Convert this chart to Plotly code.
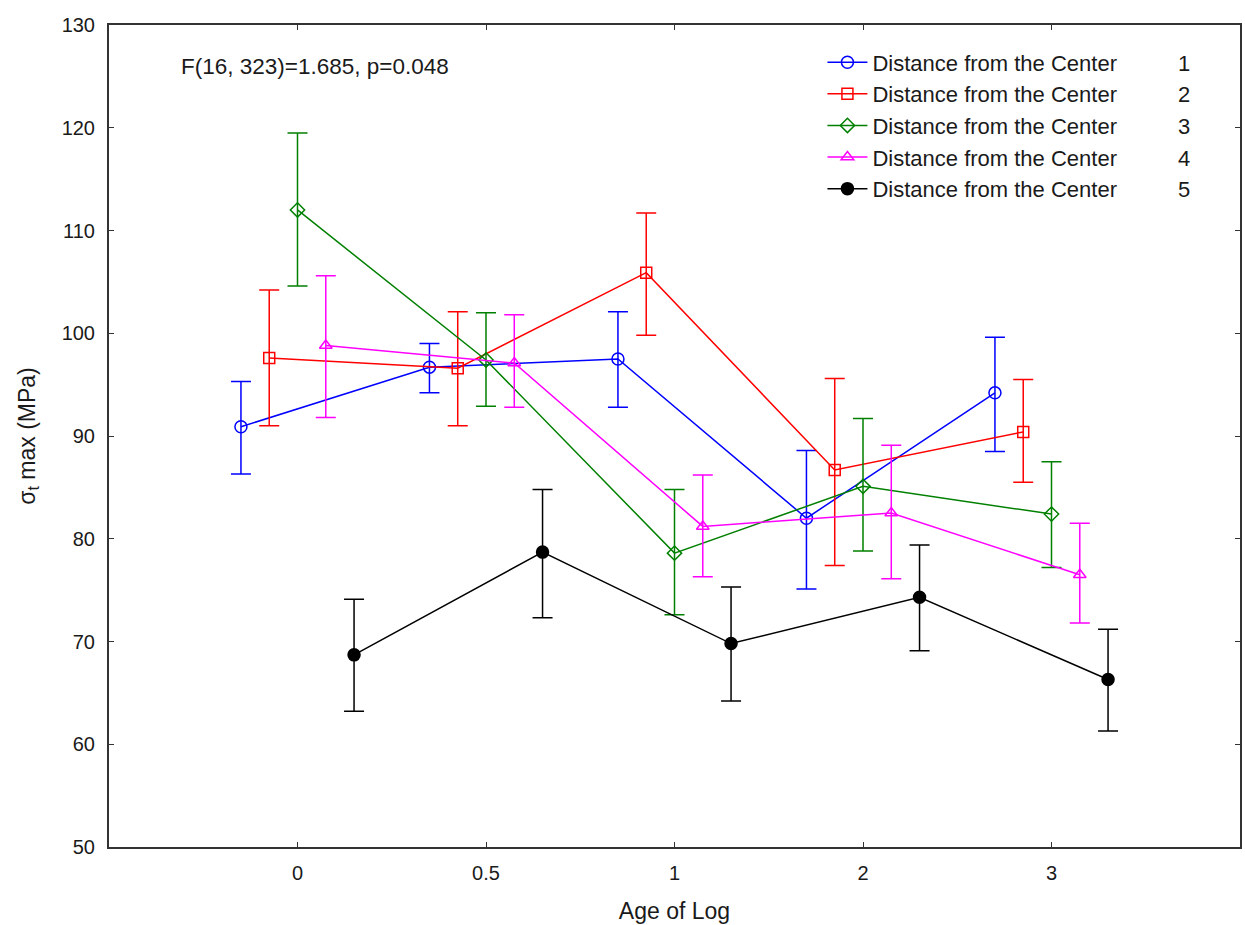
import plotly.graph_objects as go

# Data
categories = ["0", "0.5", "1", "2", "3"]
series_names = ["1", "2", "3", "4", "5"]

mean_1 = [90.9, 96.7, 97.5, 82.0, 94.2]
upper_1 = [95.3, 99.0, 102.1, 88.6, 99.6]
lower_1 = [86.3, 94.2, 92.8, 75.1, 88.5]

mean_2 = [97.6, 96.6, 105.9, 86.7, 90.4]
upper_2 = [104.2, 102.1, 111.7, 95.6, 95.5]
lower_2 = [91.0, 91.0, 99.8, 77.4, 85.5]

mean_3 = [112.0, 97.4, 78.6, 85.1, 82.4]
upper_3 = [119.5, 102.0, 84.8, 91.7, 87.5]
lower_3 = [104.6, 92.9, 72.6, 78.8, 77.2]

mean_4 = [98.8, 97.1, 81.2, 82.5, 76.5]
upper_4 = [105.6, 101.8, 86.2, 89.1, 81.5]
lower_4 = [91.8, 92.8, 76.3, 76.1, 71.8]

mean_5 = [68.7, 78.7, 69.8, 74.3, 66.3]
upper_5 = [74.1, 84.8, 75.3, 79.4, 71.2]
lower_5 = [63.2, 72.3, 64.2, 69.1, 61.3]

means = [mean_1, mean_2, mean_3, mean_4, mean_5]
uppers = [upper_1, upper_2, upper_3, upper_4, upper_5]
lowers = [lower_1, lower_2, lower_3, lower_4, lower_5]

# Styles
colors = ["#0000FF", "#FF0000", "#008000", "#FF00FF", "#000000"]
symbols = ["circle-open", "square-open", "diamond-open", "triangle-up-open", "circle"]
msizes = [12, 11, 11, 11, 12]
offsets = [-0.3, -0.15, 0.0, 0.15, 0.3]

FONT = "Liberation Sans, Arial, sans-serif"
TXT = "#1a1a1a"
NB = "\u00a0"

fig = go.Figure()
for i in range(5):
    xs = [j + offsets[i] for j in range(len(categories))]
    m = means[i]
    plus = [u - v for u, v in zip(uppers[i], m)]
    minus = [v - l for v, l in zip(m, lowers[i])]
    fig.add_trace(go.Scatter(
        x=xs, y=m, mode="lines+markers",
        name="Distance from the Center" + NB * 10 + series_names[i],
        legendgroup="g" + str(i),
        line=dict(color=colors[i], width=1.5),
        marker=dict(symbol=symbols[i], size=msizes[i], color=colors[i],
                    line=dict(color=colors[i], width=1.5)),
        error_y=dict(type="data", symmetric=False, array=plus, arrayminus=minus,
                     color=colors[i], thickness=1.5, width=10),
    ))

fig.add_annotation(
    x=0.062, y=0.949, xref="paper", yref="paper", xanchor="left", yanchor="middle",
    text="F(16, 323)=1.685, p=0.048", showarrow=False,
    font=dict(family=FONT, size=22.5, color=TXT),
)

fig.update_layout(
    width=1245, height=925, autosize=False,
    margin=dict(l=109, r=3, t=25, b=78),
    plot_bgcolor="white", paper_bgcolor="white",
    font=dict(family=FONT, size=20, color=TXT),
    showlegend=True,
    legend=dict(
        x=0.6308, y=0.98, xanchor="left", yanchor="top",
        bgcolor="rgba(0,0,0,0)", borderwidth=0,
        font=dict(family=FONT, size=22, color=TXT),
        tracegroupgap=0, itemwidth=40,
    ),
)
fig.update_xaxes(
    range=[-1, 5], tickvals=list(range(len(categories))), ticktext=categories,
    showgrid=False, zeroline=False,
    showline=True, linecolor="#333333", linewidth=2, mirror="ticks",
    ticks="inside", ticklen=5, tickcolor="#333333", tickwidth=1,
    ticklabelstandoff=7,
    tickfont=dict(family=FONT, size=20, color=TXT),
    title=dict(text="Age of Log", font=dict(family=FONT, size=23, color=TXT), standoff=20),
)
fig.update_yaxes(
    range=[50, 130], tickvals=[50, 60, 70, 80, 90, 100, 110, 120, 130],
    showgrid=False, zeroline=False,
    showline=True, linecolor="#333333", linewidth=2, mirror="ticks",
    ticks="inside", ticklen=5, tickcolor="#333333", tickwidth=1,
    ticklabelstandoff=8,
    tickfont=dict(family=FONT, size=20, color=TXT),
    title=dict(text="σ<sub>t</sub> max (MPa)", font=dict(family=FONT, size=23, color=TXT), standoff=20),
)

fig.write_html("out.html", config={"displayModeBar": False},
               post_script="document.body.style.margin='0';")
